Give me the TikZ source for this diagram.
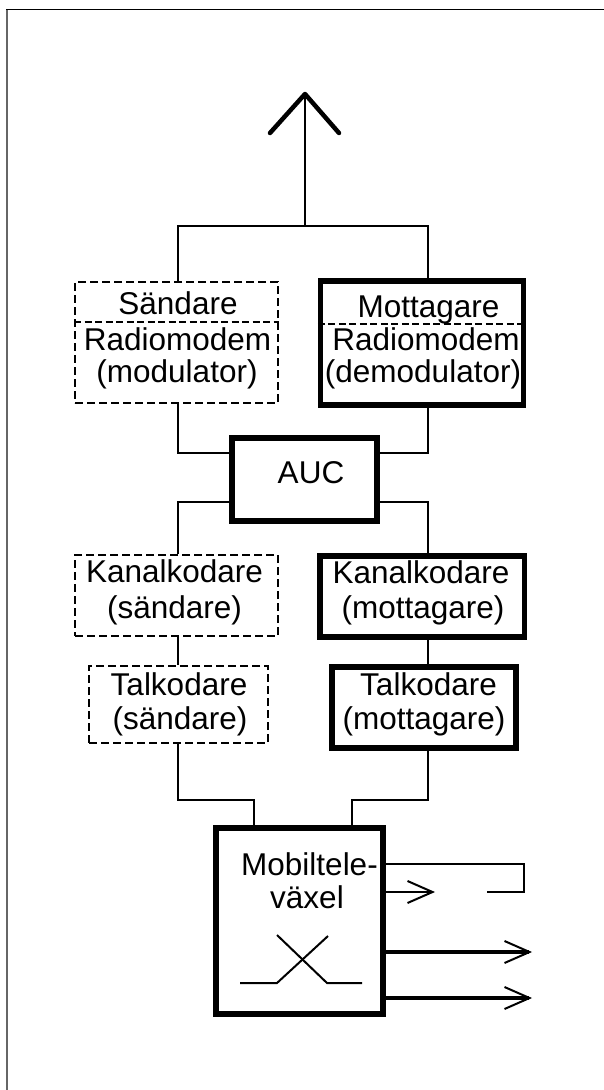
\documentclass[tikz,border=0pt]{standalone}
\usepackage{fontspec}
\setmainfont{Liberation Sans}
\usetikzlibrary{arrows.meta}
\begin{document}
\begin{tikzpicture}[x=1pt,y=-1pt,
  wire/.style={line width=2pt},
  heavywire/.style={line width=3.5pt},
  solidbox/.style={draw, rectangle, line width=5.5pt, inner sep=0pt},
  dashbox/.style={draw, rectangle, line width=2pt, dash pattern=on 8pt off 4pt, inner sep=0pt},
  divider/.style={line width=1.6pt, dash pattern=on 7pt off 3.5pt},
  lbl/.style={font=\fontsize{31.5}{34}\selectfont, inner sep=0pt, anchor=base},
  barb/.style={-{Straight Barb[length=25pt,width=22pt,line width=2pt]}},
  antenna/.style={line width=4.5pt, line cap=round, line join=round}]

% page and frame
\useasboundingbox (0,0) rectangle (604,1090);
\fill[white] (0,0) rectangle (604,1090);
\draw[line width=1.5pt, black!60] (7,1090) -- (7,9.5);
\draw[line width=1.5pt] (6.25,9.5) -- (604,9.5);

% signal columns
\coordinate (colL) at (178,0);
\coordinate (colR) at (428,0);

% blocks
\node[dashbox,  minimum width=203pt, minimum height=121pt] (snd)  at (176.5,342.5) {};
\node[solidbox, minimum width=203pt, minimum height=124pt] (rad)  at (422,343) {};
\node[solidbox, minimum width=145pt, minimum height=83pt]  (auc)  at (304.5,479.5) {};
\node[dashbox,  minimum width=203pt, minimum height=81pt]  (kanL) at (176.5,595.5) {};
\node[solidbox, minimum width=204.5pt, minimum height=81pt] (kanR) at (422.25,596.5) {};
\node[dashbox,  minimum width=179pt, minimum height=77pt]  (talL) at (178.5,704.5) {};
\node[solidbox, minimum width=184pt, minimum height=81pt]  (talR) at (424,707.5) {};
\node[solidbox, minimum width=167pt, minimum height=186pt] (mob)  at (299.5,921) {};

% inner dividers of the radio modems
\coordinate (sndDiv) at (0,322);
\coordinate (radDiv) at (0,324);
\draw[divider] (snd.west |- sndDiv) -- (snd.east |- sndDiv);
\draw[divider] (rad.west |- radDiv) -- (rad.east |- radDiv);

% labels
\node[lbl] (tSnd)  at (178,314)   {Sändare};
\node[lbl] (tRmL)  at (177.5,350) {Radiomodem};
\node[lbl] (tMod)  at (177,382)   {(modulator)};
\node[lbl] (tMot)  at (428.5,317) {Mottagare};
\node[lbl] (tRmR)  at (426,350)   {Radiomodem};
\node[lbl] (tDem)  at (423,382)   {(demodulator)};
\node[lbl] (tAuc)  at (311,483)   {AUC};
\node[lbl] (tKaL)  at (174.5,582) {Kanalkodare};
\node[lbl] (tKaLs) at (174.5,618) {(sändare)};
\node[lbl] (tKaR)  at (421,583)   {Kanalkodare};
\node[lbl] (tKaRs) at (423,618)   {(mottagare)};
\node[lbl] (tTaL)  at (179,695)   {Talkodare};
\node[lbl] (tTaLs) at (180,729)   {(sändare)};
\node[lbl] (tTaR)  at (428.5,695) {Talkodare};
\node[lbl] (tTaRs) at (424,729)   {(mottagare)};
\node[lbl] (tMob1) at (309.5,875) {Mobiltele-};
\node[lbl] (tMob2) at (307,908)   {växel};

% antenna
\coordinate (ant) at (305,94);
\coordinate (hub) at (305,226);
\draw[antenna] (270,133) -- (ant) -- (339,133);
\draw[wire] (ant) -- (hub);
\draw[wire] (snd.north -| colL) |- (hub) -| (rad.north -| colR);

% radio modems to AUC
\draw[wire] (snd.south -| colL) |- ([yshift=26.5pt]auc.west);
\draw[wire] (rad.south -| colR) |- ([yshift=26.5pt]auc.east);
\draw[wire] ([yshift=-22.5pt]auc.west) -| (kanL.north -| colL);
\draw[wire] ([yshift=-22.5pt]auc.east) -| (kanR.north -| colR);

% channel coders to speech coders
\draw[wire] (kanL.south -| colL) -- (talL.north -| colL);
\draw[wire] (kanR.south -| colR) -- (talR.north -| colR);

% speech coders to the switch
\coordinate (inL) at (254,0);
\coordinate (inR) at (352,0);
\coordinate (busY) at (0,800);
\draw[wire] (talL.south -| colL) |- (inL |- busY) -- (inL |- mob.north);
\draw[wire] (talR.south -| colR) |- (inR |- busY) -- (inR |- mob.north);

% switch symbol
\draw[wire] (240,983) -- (277,983) -- (328,936);
\draw[wire] (277,935) -- (327,983) -- (362,983);

% outgoing lines
\coordinate (loopC) at (524,892);
\coordinate (loopEnd) at (487,892);
\coordinate (out1) at (435,892);
\coordinate (out2) at (532,952);
\coordinate (out3) at (532,998);
\draw[line width=2.3pt] ([yshift=57pt]mob.east) -| (loopC) -- (loopEnd);
\draw[wire, barb] ([yshift=29pt]mob.east) -- (out1);
\draw[heavywire, barb] (mob.east |- out2) -- (out2);
\draw[heavywire, barb] (mob.east |- out3) -- (out3);
\end{tikzpicture}
\end{document}
